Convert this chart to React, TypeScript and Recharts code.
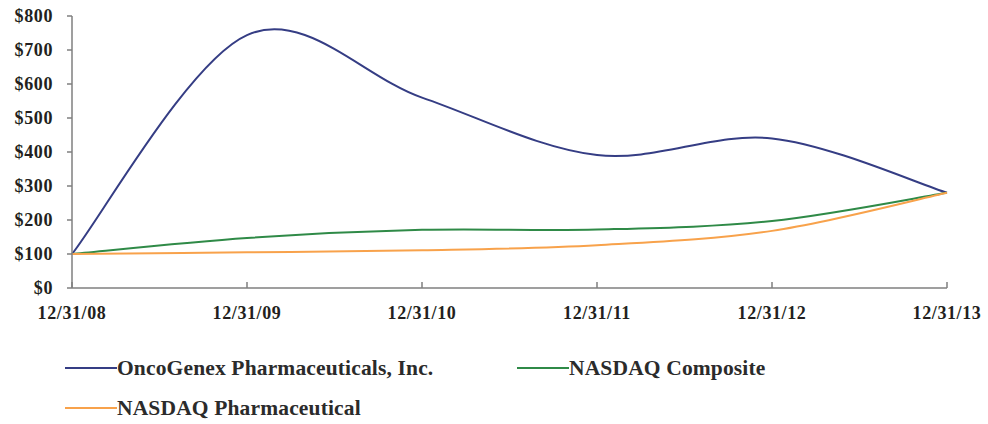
import React from 'react';
import { LineChart, Line, XAxis, YAxis } from 'recharts';

const dates = ['12/31/08', '12/31/09', '12/31/10', '12/31/11', '12/31/12', '12/31/13'];
const oncoGenex = [100, 744, 560, 391, 440, 280];
const nasdaqComposite = [100, 147, 171, 172, 197, 280];
const nasdaqPharma = [100, 105, 111, 126, 168, 280];
const yTicks = [0, 100, 200, 300, 400, 500, 600, 700, 800];

const seriesInfo = [
  { key: 'onco', name: 'OncoGenex Pharmaceuticals, Inc.', color: '#353d84' },
  { key: 'composite', name: 'NASDAQ Composite', color: '#2f8a47' },
  { key: 'pharma', name: 'NASDAQ Pharmaceutical', color: '#f8a24b' },
];

const data = dates.map((d, i) => ({
  date: d,
  onco: oncoGenex[i],
  composite: nasdaqComposite[i],
  pharma: nasdaqPharma[i],
}));

const font = '"Liberation Serif", "Times New Roman", serif';

// Excel style smoothed line (catmull-rom like bezier)
function excelCurve(context: any) {
  let pts: number[][] = [];
  return {
    areaStart() {},
    areaEnd() {},
    lineStart() {
      pts = [];
    },
    point(x: number, y: number) {
      pts.push([+x, +y]);
    },
    lineEnd() {
      if (!pts.length) return;
      context.moveTo(pts[0][0], pts[0][1]);
      for (let i = 0; i < pts.length - 1; i++) {
        const p0 = pts[i - 1] || pts[i];
        const p1 = pts[i];
        const p2 = pts[i + 1];
        const p3 = pts[i + 2] || p2;
        context.bezierCurveTo(
          p1[0] + (p2[0] - p0[0]) / 6,
          p1[1] + (p2[1] - p0[1]) / 6,
          p2[0] - (p3[0] - p1[0]) / 6,
          p2[1] - (p3[1] - p1[1]) / 6,
          p2[0],
          p2[1]
        );
      }
    },
  };
}

const XTick = (props: any) => {
  const { x, y, payload } = props;
  return (
    <g>
      <line x1={x} y1={y} x2={x} y2={y - 6} stroke="#7f7f7f" strokeWidth={1.5} />
      <text
        x={x}
        y={y + 31}
        textAnchor="middle"
        fontFamily={font}
        fontWeight="bold"
        fontSize={18}
        fill="#231f20"
        style={{ letterSpacing: 0.6 }}
      >
        {payload.value}
      </text>
    </g>
  );
};

const LegendItem = ({ s, left, top }: { s: typeof seriesInfo[number]; left: number; top: number }) => (
  <div style={{ position: 'absolute', left, top: top - 12, height: 24, display: 'flex', alignItems: 'center' }}>
    <div style={{ width: 52, height: 2, background: s.color }} />
    <span
      style={{
        fontFamily: font,
        fontWeight: 'bold',
        fontSize: 21.5,
        letterSpacing: 0.15,
        color: '#2b2b2b',
        lineHeight: '24px',
        whiteSpace: 'nowrap',
      }}
    >
      {s.name}
    </span>
  </div>
);

export default function App() {
  return (
    <div style={{ position: 'absolute', left: 0, top: 0, width: 988, height: 424, background: '#fff' }}>
      <LineChart width={988} height={330} data={data} margin={{ top: 16, right: 41, bottom: 0, left: 0 }}>
        <XAxis
          dataKey="date"
          height={42}
          tick={<XTick />}
          tickLine={false}
          tickSize={0}
          tickMargin={0}
          axisLine={{ stroke: '#7f7f7f', strokeWidth: 1.5 }}
          interval={0}
        />
        <YAxis
          width={72}
          domain={[0, 800]}
          ticks={yTicks}
          interval={0}
          tickFormatter={(v: number) => `$${v}`}
          tickSize={5}
          tickMargin={14}
          tickLine={{ stroke: '#7f7f7f', strokeWidth: 1.5 }}
          axisLine={{ stroke: '#7f7f7f', strokeWidth: 1.5 }}
          tick={{ fontFamily: font, fontWeight: 'bold', fontSize: 18, fill: '#231f20', style: { letterSpacing: 0.6 } }}
        />
        {seriesInfo.map((s) => (
          <Line
            key={s.key}
            dataKey={s.key}
            name={s.name}
            type={excelCurve as any}
            stroke={s.color}
            strokeWidth={2}
            dot={false}
            activeDot={false}
            isAnimationActive={false}
          />
        ))}
      </LineChart>
      <LegendItem s={seriesInfo[0]} left={65} top={368} />
      <LegendItem s={seriesInfo[1]} left={517} top={368} />
      <LegendItem s={seriesInfo[2]} left={65} top={408} />
    </div>
  );
}
